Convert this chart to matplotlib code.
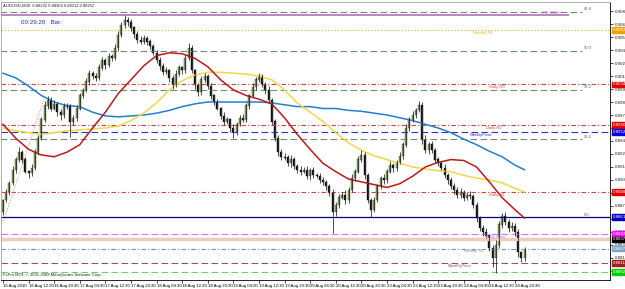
import matplotlib
matplotlib.use('Agg')
import matplotlib.pyplot as plt
import matplotlib.transforms as mtransforms
import numpy as np

plt.rcParams['font.family']=['Liberation Sans','DejaVu Sans']

# AUDUSD candles, one per hour
closes=[0.8879,0.8888,0.8898,0.8912,0.8923,0.8931,0.8923,0.8910,0.8908,0.8914,
        0.8931,0.8946,0.8966,0.8981,0.8987,0.8978,0.8983,0.8974,0.8971,0.8980,
        0.8981,0.8964,0.8968,0.8978,0.8992,0.8998,0.9007,0.9016,0.9013,0.9011,
        0.9022,0.9030,0.9025,0.9034,0.9032,0.9043,0.9057,0.9068,0.9073,0.9071,
        0.9065,0.9058,0.9052,0.9050,0.9054,0.9050,0.9045,0.9038,0.9030,0.9024,
        0.9017,0.9019,0.9011,0.9004,0.9015,0.9022,0.9019,0.9032,0.9043,0.9019,
        0.9003,0.8996,0.9009,0.9013,0.9002,0.8992,0.8985,0.8978,0.8970,0.8964,
        0.8966,0.8957,0.8953,0.8961,0.8968,0.8966,0.8981,0.8992,0.9001,0.9009,
        0.9013,0.9004,0.8998,0.8987,0.8964,0.8946,0.8931,0.8926,0.8925,0.8919,
        0.8923,0.8916,0.8912,0.8910,0.8912,0.8905,0.8912,0.8906,0.8905,0.8901,
        0.8899,0.8894,0.8887,0.8866,0.8874,0.8882,0.8885,0.8879,0.8890,0.8903,
        0.8910,0.8923,0.8928,0.8906,0.8879,0.8869,0.8879,0.8894,0.8903,0.8901,
        0.8910,0.8917,0.8914,0.8920,0.8927,0.8939,0.8957,0.8966,0.8971,0.8976,
        0.8981,0.8944,0.8933,0.8939,0.8933,0.8923,0.8919,0.8914,0.8906,0.8901,
        0.8894,0.8890,0.8885,0.8888,0.8882,0.8885,0.8884,0.8874,0.8860,0.8849,
        0.8845,0.8841,0.8828,0.8817,0.8831,0.8853,0.8862,0.8856,0.8849,0.8851,
        0.8845,0.8823,0.8817,0.88252]
first_open=0.8866
# wick lengths in pips above/below the body
up_wick=[2,3,2,4,3,5,2,3,2,4, 3,4,3,5,4,3,4,2,3,4, 3,2,3,4,3,2,4,3,2,3,
         4,3,2,4,3,5,4,3,6,4, 3,2,3,4,3,2,3,2,3,4, 3,4,2,3,4,3,2,4,6,3,
         2,3,4,3,2,3,2,3,2,4, 3,2,4,3,3,4,3,2,4,3, 3,2,3,4,2,3,4,3,4,3,
         5,3,2,4,3,4,2,3,3,4, 3,2,3,4,3,4,3,5,3,4, 3,4,5,3,2,3,4,3,2,4,
         3,4,2,3,4,3,4,3,4,3, 5,4,5,3,4,2,3,2,4,3, 3,4,3,4,2,3,4,2,3,2,
         3,4,2,3,5,4,3,4,3,5, 4,3,2,4]
dn_wick=[3,2,3,2,4,3,4,2,5,3, 2,3,2,3,4,3,2,4,5,3, 3,17,4,3,2,3,2,4,3,3,
         2,3,4,2,3,2,3,2,3,4, 3,4,3,2,3,4,3,2,3,4, 3,2,4,5,3,2,4,3,2,3,
         4,5,3,2,3,4,3,2,3,4, 3,4,7,3,2,3,2,3,2,3, 2,3,4,3,4,3,4,3,2,3,
         4,3,3,4,2,3,4,3,2,3, 3,4,3,22,4,3,2,4,3,2, 3,2,3,4,3,8,3,2,3,4,
         3,2,4,3,2,3,2,3,2,3, 2,4,3,4,3,4,3,2,3,4, 3,4,3,3,4,3,4,3,4,3,
         4,3,4,10,16,3,4,3,4,3, 4,5,4,3]

time_labels=['16 Aug 2010','16 Aug 12:30','16 Aug 20:30','17 Aug 04:30','17 Aug 12:30',
             '17 Aug 20:30','18 Aug 04:30','18 Aug 12:30','18 Aug 20:30','19 Aug 04:30',
             '19 Aug 12:30','19 Aug 20:30','20 Aug 04:30','20 Aug 12:30','20 Aug 20:30',
             '23 Aug 04:30','23 Aug 12:30','23 Aug 20:30','24 Aug 04:30','24 Aug 12:30',
             '24 Aug 20:30']

# moving averages, sampled every 4 candles (+ last candle)
ma_blue=[0.9016,0.9011,0.9002,0.8992,0.8985,0.8981,0.8980,0.8974,0.8970,0.8969,
         0.8970,0.8971,0.8973,0.8976,0.8980,0.8983,0.8985,0.8985,0.8985,0.8985,
         0.8985,0.8984,0.8982,0.8980,0.8980,0.8978,0.8978,0.8976,0.8975,0.8973,
         0.8971,0.8968,0.8965,0.8961,0.8957,0.8952,0.8945,0.8939,0.8932,0.8926,
         0.8917,0.8912]
ma_red=[0.8961,0.8946,0.8934,0.8928,0.8926,0.8931,0.8939,0.8957,0.8974,0.8994,
        0.9009,0.9024,0.9035,0.9038,0.9037,0.9032,0.9023,0.9009,0.8998,0.8992,
        0.8988,0.8983,0.8968,0.8950,0.8934,0.8919,0.8910,0.8902,0.8899,0.8896,
        0.8893,0.8897,0.8905,0.8915,0.8920,0.8923,0.8922,0.8915,0.8899,0.8882,
        0.8869,0.8860]
ma_yellow=[0.8957,0.8954,0.8952,0.8950,0.8952,0.8954,0.8955,0.8956,0.8957,0.8959,
           0.8965,0.8973,0.8984,0.8998,0.9008,0.9014,0.9017,0.9017,0.9016,0.9015,
           0.9013,0.9009,0.8998,0.8984,0.8974,0.8964,0.8952,0.8941,0.8933,0.8927,
           0.8923,0.8919,0.8915,0.8913,0.8911,0.8910,0.8906,0.8903,0.8901,0.8898,
           0.8892,0.8888]

# fibo levels
fib_names=['61.8','50.0','38.2','23.6','0.0']
fib_prices=[0.9082,0.9040,0.8998,0.8945,0.8861]
fe_price=0.9079

# pivot lines
piv_names=['Weekly R1','Daily R3','Daily R2','WeeklyPivot','Daily R1','Daily Pivot','Weekly S1','MonthlyPivot','']
piv_prices=[0.90625,0.90042,0.89601,0.89527,0.88881,0.88428,0.88270,0.88116,0.88020]
piv_colors=['#e6b422','#d04040','#d04040','#3030c0','#d04040','#e070e0','#7890a8','#8b5a5a','#70d070']
piv_styles=[(0,(1,2)),(0,(4,2,1,2)),(0,(4,2,1,2)),(0,(6,3)),(0,(4,2,1,2)),(0,(6,3)),(0,(4,2,1,2)),(0,(6,3)),(0,(6,3))]
tag_colors=['#f0a000','#e00000','#e00000','#0000e0','#e00000','#ff00ff','#7fa0c8','#a02020','#00d000']
band_price=0.8837
zero_price=0.8861

trend_x=[0,13]
trend_y=[0.8855,0.8990]

n=len(closes)
opens=[first_open]+closes[:-1]
x=np.arange(n)
tops=np.maximum(opens,closes)
bots=np.minimum(opens,closes)
highs=tops+np.array(up_wick)*0.0001
lows=bots-np.array(dn_wick)*0.0001
up=np.array(closes)>=np.array(opens)

fig=plt.figure(figsize=(6.25,2.89),dpi=100)
ax=fig.add_axes([1/625,9/289,609/625,278/289])
ax.set_xlim(-0.625,189.7)
ax.set_ylim(0.87933,0.90927)

# horizontal levels
for p in fib_prices[:-1]:
    ax.hlines(p,-1,181,color='#6e8e6e',lw=0.8,linestyles=(0,(6,3)))
ax.hlines(fe_price,-1,177,color='#b070c0',lw=1.2)
ax.text(174,fe_price+0.00002,'FE 200.0',fontsize=3,color='#b070c0',va='bottom',ha='right')
for nm,p in zip(fib_names,fib_prices):
    ax.text(181.5,p+0.00005,nm,fontsize=3,color='#507050',va='bottom')
ax.axhline(band_price,color='#e8d0c0',lw=2.5)
ax.axhline(zero_price,color='#000080',lw=0.9)
lab_x=[147,152,151,146,152,151,144,139,0]
for nm,p,c,ls,lx in zip(piv_names,piv_prices,piv_colors,piv_styles,lab_x):
    ax.axhline(p,color=c,lw=0.8,linestyle=ls)
    if nm:
        ax.text(lx,p-0.00008,nm,fontsize=3,color=c,va='top')

# trendline
ax.plot(trend_x,trend_y,color='#d08080',lw=0.6,linestyle=(0,(1,1.5)))

# moving averages
ma_x=list(range(0,n,4))+[n-1]
ax.plot(ma_x,ma_blue,color='#2080d0',lw=1.1)
ax.plot(ma_x,ma_yellow,color='#f0d848',lw=1.1)
ax.plot(ma_x,ma_red,color='#c01818',lw=1.1)

# candles
ax.vlines(x,lows,highs,color='#303030',lw=0.6)
ax.bar(x[up],(tops-bots)[up]+0.00003,bottom=bots[up],width=0.6,color='#7f9a5a',edgecolor='#405a20',lw=0.3)
ax.bar(x[~up],(tops-bots)[~up]+0.00003,bottom=bots[~up],width=0.6,color='#101010',edgecolor='#101010',lw=0.3)

# axes
for s in ['left','top']:
    ax.spines[s].set_color('#a0a0a0')
    ax.spines[s].set_linewidth(0.6)
ax.spines['right'].set_linewidth(0.6)
ax.spines['bottom'].set_linewidth(0.6)
ax.yaxis.tick_right()
yt=np.round(0.9083-0.0014*np.arange(21),5)
ax.set_yticks(yt)
ax.set_yticklabels(['%.5f'%v for v in yt])
ax.tick_params(axis='y',labelsize=3.2,length=2,width=0.5,pad=1.5,labelcolor='#202020')
ax.set_xticks(np.arange(0,n,8)[:len(time_labels)])
ax.set_xticklabels(time_labels)
ax.tick_params(axis='x',labelsize=3.1,length=2,width=0.5,pad=1)
for t in ax.get_xticklabels():
    t.set_ha('left')

# price tags on the right axis
tr=mtransforms.blended_transform_factory(ax.transAxes,ax.transData)
for p,c in zip(piv_prices,tag_colors):
    ax.text(1.004,p,'%.5f'%p,transform=tr,fontsize=3.2,color='white',va='center',ha='left',
            bbox=dict(boxstyle='square,pad=0.15',fc=c,ec=c),clip_on=False)
ax.text(1.004,band_price,'%.5f'%band_price,transform=tr,fontsize=3.2,color='white',va='center',ha='left',
        bbox=dict(boxstyle='square,pad=0.15',fc='black',ec='black'),clip_on=False)
ax.text(1.004,zero_price,'%.5f'%zero_price,transform=tr,fontsize=3.2,color='white',va='center',ha='left',
        bbox=dict(boxstyle='square,pad=0.15',fc='#0000c0',ec='#0000c0'),clip_on=False)

# header texts
ax.text(0.004,0.995,'AUDUSD,M30  0.88232 0.88364 0.88212 0.88252',transform=ax.transAxes,
        fontsize=3,va='top',color='#202020')
ax.text(0.033,0.935,'00:29:20   Bar:',transform=ax.transAxes,fontsize=4.5,va='top',color='#3030a0')
ax.text(0.004,0.01,'FxPro MT4, \u00a9 2001-2009 MetaQuotes Software Corp.',transform=ax.transAxes,
        fontsize=3,va='bottom',color='#202020')

plt.savefig('out.png',dpi=100)
